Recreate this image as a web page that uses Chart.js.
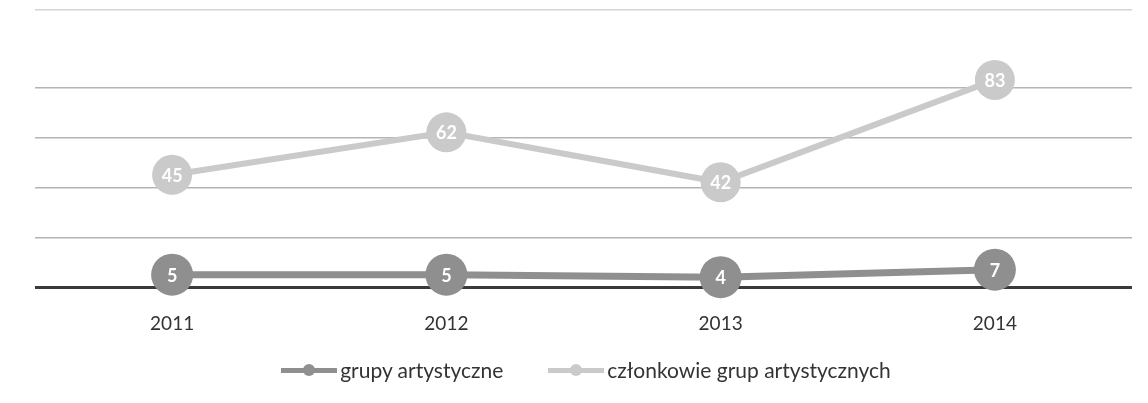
<!DOCTYPE html>
<html>
<head>
<meta charset="utf-8">
<script src="https://cdn.jsdelivr.net/npm/chart.js@4"></script>
<style>
  html, body { margin: 0; padding: 0; background: #fff; }
  #wrap { position: relative; width: 1148px; height: 403px; }
  #legend {
    position: absolute; left: 24px; top: 357px; width: 1124px;
    display: flex; justify-content: center; gap: 45px;
    font-family: Lato, "Noto Sans", sans-serif; font-size: 21px; line-height: 26px; color: #333;
  }
  .item { display: flex; align-items: center; }
  .sym { position: relative; width: 56px; height: 14px; margin-right: 3px; }
  .sym .ln { position: absolute; left: 0; right: 0; top: 5px; height: 5px; }
  .sym .dot { position: absolute; left: 22px; top: 1px; width: 12px; height: 12px; border-radius: 50%; }
</style>
</head>
<body>
<div id="wrap">
  <canvas id="chart" width="1148" height="403"></canvas>
  <div id="legend"></div>
</div>
<script>
const years = ['2011', '2012', '2013', '2014'];
const seriesNames = ['grupy artystyczne', 'członkowie grup artystycznych'];
const groups = [5, 5, 4, 7];
const members = [45, 62, 42, 83];
const gridValues = [0, 20, 40, 60, 80, 111];
const seriesColors = ['#8f8f8f', '#cacaca'];

// white numbers inside the round markers
const pointLabels = {
    id: 'pointLabels',
    afterDatasetsDraw(chart) {
        const ctx = chart.ctx;
        ctx.save();
        ctx.fillStyle = '#fff';
        ctx.font = 'bold 18px Lato, "Noto Sans", sans-serif';
        ctx.textAlign = 'center';
        ctx.textBaseline = 'middle';
        chart.data.datasets.forEach((ds, i) => {
            chart.getDatasetMeta(i).data.forEach((pt, j) => {
                ctx.fillText(ds.data[j], pt.x, pt.y + 1);
            });
        });
        ctx.restore();
    }
};

const chart = new Chart(document.getElementById('chart'), {
    type: 'line',
    data: {
        labels: years,
        datasets: [
            {
                label: seriesNames[0],
                data: groups,
                borderColor: seriesColors[0],
                backgroundColor: seriesColors[0],
                borderWidth: 7,
                pointRadius: 21,
                pointBorderWidth: 0,
                tension: 0,
                clip: false
            },
            {
                label: seriesNames[1],
                data: members,
                borderColor: seriesColors[1],
                backgroundColor: seriesColors[1],
                borderWidth: 6,
                pointRadius: 20,
                pointBorderWidth: 0,
                tension: 0,
                clip: false
            }
        ]
    },
    options: {
        responsive: false,
        animation: false,
        layout: { autoPadding: false, padding: { left: 35, right: 16, top: 10, bottom: 43 } },
        plugins: { legend: { display: false }, tooltip: { enabled: false } },
        scales: {
            x: {
                offset: true,
                grid: { display: false, drawTicks: false },
                border: { display: false },
                ticks: {
                    padding: 25,
                    color: '#333',
                    font: { family: 'Lato, "Noto Sans", sans-serif', size: 19 }
                }
            },
            y: {
                min: 0,
                max: 111,
                afterBuildTicks: (scale) => { scale.ticks = gridValues.map(v => ({ value: v })); },
                ticks: { display: false },
                border: { display: false },
                grid: {
                    drawTicks: false,
                    color: (c) => c.tick && c.tick.value === 0 ? '#3a3a3a' : (c.tick && c.tick.value === 111 ? '#d4d4d4' : '#b4b4b4'),
                    lineWidth: (c) => c.tick && c.tick.value === 0 ? 3 : 1.5
                }
            }
        }
    },
    plugins: [pointLabels]
});

// legend row built from the datasets
const legend = document.getElementById('legend');
chart.data.datasets.forEach((ds) => {
    const item = document.createElement('div');
    item.className = 'item';
    item.innerHTML = '<span class="sym"><span class="ln" style="background:' + ds.borderColor +
        '"></span><span class="dot" style="background:' + ds.borderColor + '"></span></span>';
    const txt = document.createElement('span');
    txt.textContent = ds.label;
    item.appendChild(txt);
    legend.appendChild(item);
});
</script>
</body>
</html>
